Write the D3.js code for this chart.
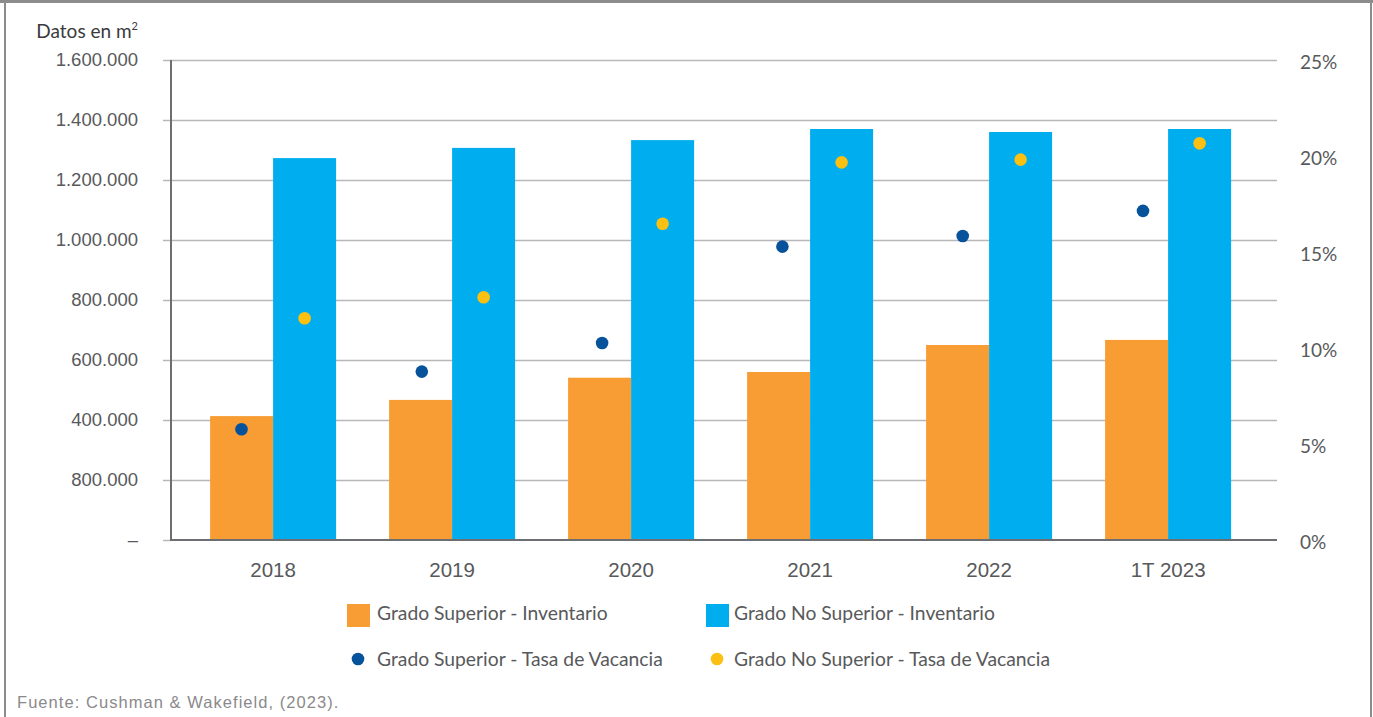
<!DOCTYPE html>
<html>
<head>
<meta charset="utf-8">
<script src="https://cdn.jsdelivr.net/npm/d3@7/dist/d3.min.js"></script>
<style>
  html, body { margin: 0; padding: 0; background: #fff; }
  svg { display: block; }
</style>
</head>
<body>
<svg id="chart" width="1373" height="717"></svg>
<script>
// ---- data ----
const categories = ["2018", "2019", "2020", "2021", "2022", "1T 2023"];
const superiorInventario = [413000, 467000, 541000, 560000, 650000, 667000];
const noSuperiorInventario = [1273000, 1307000, 1333000, 1370000, 1360000, 1370000];
const superiorVacancia = [5.77, 8.77, 10.26, 15.28, 15.83, 17.14];
const noSuperiorVacancia = [11.55, 12.64, 16.47, 19.67, 19.81, 20.66];
const leftTickValues = [0, 200000, 400000, 600000, 800000, 1000000, 1200000, 1400000, 1600000];
const leftTickLabels = ["–", "800.000", "400.000", "600.000", "800.000", "1.000.000", "1.200.000", "1.400.000", "1.600.000"];
const rightTickValues = [0, 5, 10, 15, 20, 25];
const rightTickLabels = ["0%", "5%", "10%", "15%", "20%", "25%"];
const legendLabels = [
  "Grado Superior - Inventario",
  "Grado No Superior - Inventario",
  "Grado Superior - Tasa de Vacancia",
  "Grado No Superior - Tasa de Vacancia"
];

// ---- style ----
const C_ORANGE = "#F79D34", C_BLUE = "#00ADEE", C_DARK = "#07539B", C_YELLOW = "#FBC012";
const TXT = "#58595B";
const MYRIAD = "'Lato', 'Noto Sans', sans-serif";
const HELV = "'Liberation Sans', Arial, sans-serif";

const svg = d3.select("#chart");
const L = 171, R = 1277, T = 60, B = 540;

// frame
svg.append("rect").attr("x", 0).attr("y", 0).attr("width", 1373).attr("height", 3).attr("fill", "#8c8c8c");
svg.append("line").attr("x1", 5).attr("x2", 5).attr("y1", 0).attr("y2", 717).attr("stroke", "#8c8c8c").attr("stroke-width", 2);
svg.append("line").attr("x1", 1371).attr("x2", 1371).attr("y1", 0).attr("y2", 717).attr("stroke", "#8c8c8c").attr("stroke-width", 2);

// scales
const x0 = d3.scaleBand().domain(categories).range([L, R])
  .paddingInner(0.296).paddingOuter(0.2374).align(0.46);
const x1 = d3.scaleBand().domain(["sup", "nosup"]).range([0, x0.bandwidth()]);
// the dark vacancy markers sit on a slightly wider-spaced layer in the original
const xDotSup = d3.scalePoint().domain(categories).range([241.5, 1143]);
const yL = d3.scaleLinear().domain([0, 1600000]).range([B, T]);
const yR = d3.scaleLinear().domain([0, 25]).range([B, T]);

// gridlines
const grid = svg.append("g").attr("transform", `translate(${L},0)`)
  .call(d3.axisLeft(yL).tickValues(leftTickValues.slice(1)).tickSize(-(R - L)).tickFormat(""));
grid.select(".domain").remove();
grid.selectAll("line").attr("stroke", "#B8B8BA").attr("stroke-width", 1.5);

// bars
const g = svg.append("g");
categories.forEach((c, i) => {
  g.append("rect").attr("x", x0(c) + x1("sup")).attr("y", yL(superiorInventario[i]))
    .attr("width", x1.bandwidth()).attr("height", yL(0) - yL(superiorInventario[i])).attr("fill", C_ORANGE);
  g.append("rect").attr("x", x0(c) + x1("nosup")).attr("y", yL(noSuperiorInventario[i]))
    .attr("width", x1.bandwidth()).attr("height", yL(0) - yL(noSuperiorInventario[i])).attr("fill", C_BLUE);
});

// dots
categories.forEach((c, i) => {
  g.append("circle").attr("cx", xDotSup(c)).attr("cy", yR(superiorVacancia[i]))
    .attr("r", 6.3).attr("fill", C_DARK);
  g.append("circle").attr("cx", x0(c) + x1("nosup") + x1.bandwidth() / 2).attr("cy", yR(noSuperiorVacancia[i]))
    .attr("r", 6.3).attr("fill", C_YELLOW);
});

// left axis
const ax = svg.append("g").attr("transform", `translate(${L},0)`)
  .call(d3.axisLeft(yL).tickValues(leftTickValues).tickSize(8).tickPadding(25)
    .tickFormat((d, i) => leftTickLabels[i]));
ax.select(".domain").remove();
ax.selectAll(".tick line").attr("stroke", "#B8B8BA").attr("stroke-width", 1.5);
ax.selectAll("text").attr("font-family", HELV).attr("font-size", 18.5).attr("fill", TXT);
svg.append("line").attr("x1", L).attr("x2", L).attr("y1", T).attr("y2", B + 1)
  .attr("stroke", "#6D6E71").attr("stroke-width", 2);

// right axis
const ar = svg.append("g").attr("transform", `translate(${R},0)`)
  .call(d3.axisRight(yR).tickValues(rightTickValues).tickSize(0).tickPadding(23)
    .tickFormat((d, i) => rightTickLabels[i]));
ar.select(".domain").remove();
ar.selectAll("text").attr("font-family", MYRIAD).attr("font-size", 19).attr("fill", TXT).attr("dy", "0.45em");

// x axis
const axb = svg.append("g").attr("transform", `translate(0,${B})`)
  .call(d3.axisBottom(x0).tickSize(0).tickPadding(22));
axb.select(".domain").remove();
axb.selectAll("text").attr("font-family", HELV).attr("font-size", 20.5).attr("fill", TXT);
svg.append("line").attr("x1", L).attr("x2", R).attr("y1", B).attr("y2", B)
  .attr("stroke", "#6D6E71").attr("stroke-width", 2);

// unit title
const t = svg.append("text").attr("x", 138).attr("y", 38).attr("text-anchor", "end")
  .attr("font-family", MYRIAD).attr("font-size", 19).attr("fill", "#3a3a3c");
t.append("tspan").text("Datos en m");
t.append("tspan").attr("font-size", 11).attr("dy", -8).text("2");

// legend
const lg = svg.append("g");
const legendItems = [
  { x: 347, tx: 377, y: 613, type: "rect", color: C_ORANGE, label: legendLabels[0] },
  { x: 706, tx: 734, y: 613, type: "rect", color: C_BLUE, label: legendLabels[1] },
  { x: 347, tx: 377, y: 659, type: "dot", color: C_DARK, label: legendLabels[2] },
  { x: 706, tx: 734, y: 659, type: "dot", color: C_YELLOW, label: legendLabels[3] }
];
legendItems.forEach(d => {
  if (d.type === "rect") {
    lg.append("rect").attr("x", d.x).attr("y", d.y - 9).attr("width", 23).attr("height", 23).attr("fill", d.color);
  } else {
    lg.append("circle").attr("cx", d.x + 11).attr("cy", d.y).attr("r", 6.3).attr("fill", d.color);
  }
  lg.append("text").attr("x", d.tx).attr("y", d.y + 7)
    .attr("font-family", MYRIAD).attr("font-size", 19.3).attr("fill", TXT).text(d.label);
});

// footer
svg.append("text").attr("x", 17).attr("y", 708).attr("font-family", HELV).attr("font-size", 16.5)
  .attr("letter-spacing", 1.05).attr("fill", "#8a8a8c").text("Fuente: Cushman & Wakefield, (2023).");
</script>
</body>
</html>
